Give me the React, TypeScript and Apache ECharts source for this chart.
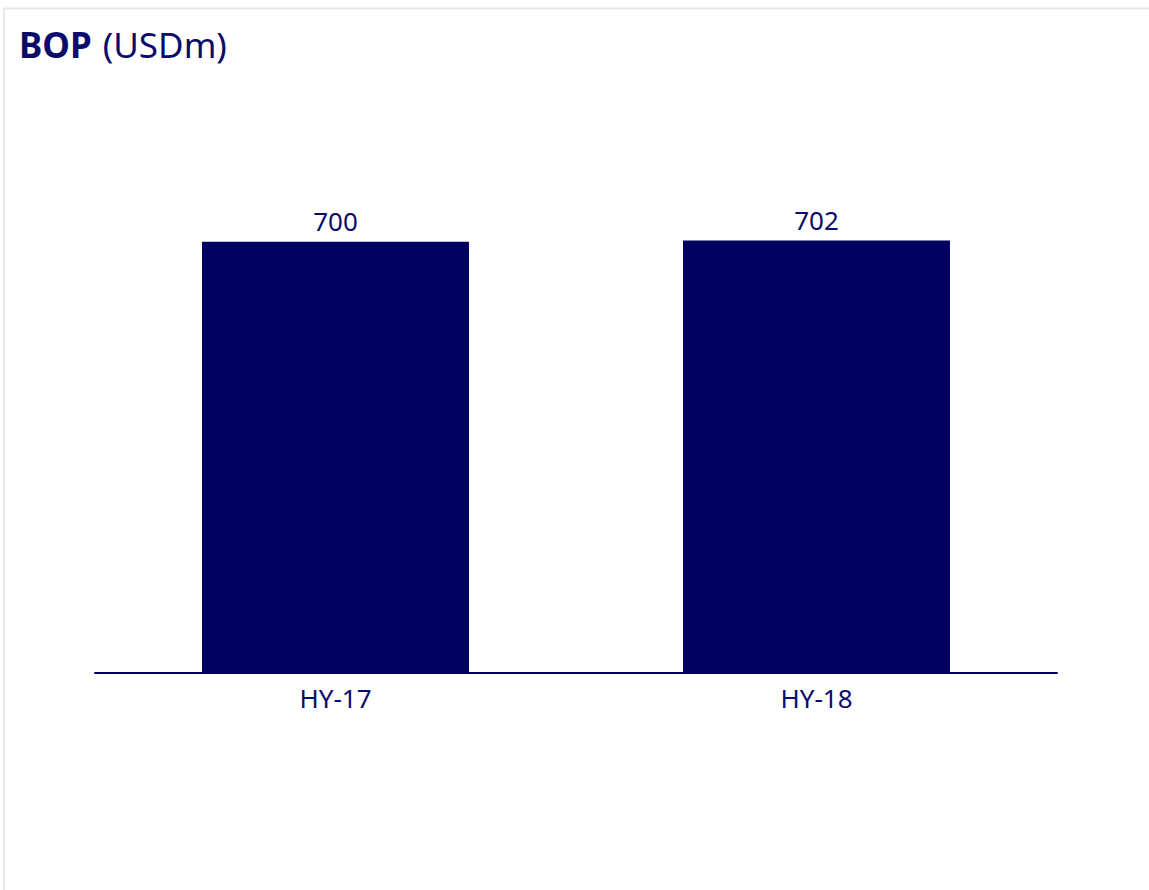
import React, { useEffect, useRef } from "react";
import * as echarts from "echarts";

const categories = ["HY-17", "HY-18"];
const bopValues = [700, 702];
const yMax = 1000;

const NAVY = "#000060";
const TEXT = "#0b0b6b";
const FONT = "'Noto Sans', 'Open Sans', sans-serif";

export default function App() {
  const ref = useRef<HTMLDivElement>(null);
  useEffect(() => {
    if (!ref.current) return;
    const chart = echarts.init(ref.current, null, { renderer: "svg" });
    chart.setOption({
      animation: false,
      backgroundColor: "#ffffff",
      title: {
        left: 19,
        top: 22,
        padding: 0,
        text: "{b|BOP} {r|(USDm)}",
        textStyle: {
          fontSize: 35,
          fontFamily: FONT,
          rich: {
            b: { fontFamily: FONT, fontSize: 35, fontWeight: "bold", color: TEXT, lineHeight: 44 },
            r: { fontFamily: FONT, fontSize: 35, fontWeight: "normal", color: TEXT, lineHeight: 44, padding: [0, 0, 0, 2] },
          },
        },
      },
      graphic: [
        {
          type: "rect",
          shape: { x: 4, y: 8.5, width: 1300, height: 1000 },
          style: { fill: "none", stroke: "#e6e9e8", lineWidth: 2 },
          silent: true,
        },
      ],
      grid: { left: 95, right: 92, top: 57, bottom: 217, containLabel: false },
      xAxis: {
        type: "category",
        data: categories,
        axisLine: { show: true, lineStyle: { color: NAVY, width: 2 } },
        axisTick: { show: false },
        axisLabel: { color: TEXT, fontFamily: FONT, fontSize: 26, margin: 12 },
      },
      yAxis: {
        type: "value",
        min: 0,
        max: yMax,
        show: false,
        splitLine: { show: false },
      },
      series: [
        {
          type: "bar",
          data: bopValues,
          barWidth: "55.5%",
          itemStyle: { color: NAVY },
          label: {
            show: true,
            position: "top",
            distance: 8,
            color: TEXT,
            fontFamily: FONT,
            fontSize: 26,
          },
        },
      ],
    });
    return () => chart.dispose();
  }, []);
  return (
    <div
      ref={ref}
      style={{ position: "absolute", left: 0, top: 0, width: 1149, height: 890 }}
    />
  );
}
